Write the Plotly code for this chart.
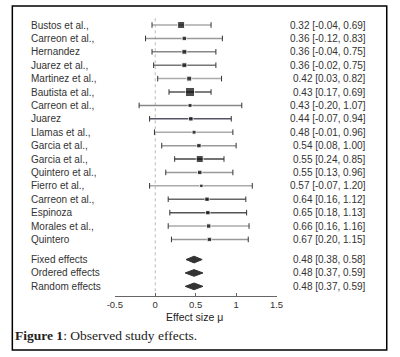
import plotly.graph_objects as go

studies = ["Bustos et al.,", "Carreon et al.,", "Hernandez", "Juarez et al.,", "Martinez et al.,",
           "Bautista et al.,", "Carreon et al.,", "Juarez", "Llamas et al.,", "Garcia et al.,",
           "Garcia et al.,", "Quintero et al.,", "Fierro et al.,", "Carreon et al.,", "Espinoza",
           "Morales et al.,", "Quintero"]
est = [0.32, 0.36, 0.36, 0.36, 0.42, 0.43, 0.43, 0.44, 0.48, 0.54, 0.55, 0.55, 0.57, 0.64, 0.65, 0.66, 0.67]
lo = [-0.04, -0.12, -0.04, -0.02, 0.03, 0.17, -0.20, -0.07, -0.01, 0.08, 0.24, 0.13, -0.07, 0.16, 0.18, 0.16, 0.20]
hi = [0.69, 0.83, 0.75, 0.75, 0.82, 0.69, 1.07, 0.94, 0.96, 1.00, 0.85, 0.96, 1.20, 1.12, 1.13, 1.16, 1.15]
weights = [7, 4.5, 5, 5, 5, 9, 4, 4.5, 4, 4.5, 7, 4.5, 3.5, 4.5, 4.5, 4.5, 4.5]

pooled = ["Fixed effects", "Ordered effects", "Random effects"]
pooled_est = [0.48, 0.48, 0.48]
pooled_lo = [0.38, 0.37, 0.37]
pooled_hi = [0.58, 0.59, 0.59]

tick_vals = [-0.5, 0, 0.5, 1, 1.5]
tick_text = ["-0.5", "0", "0.5", "1", "1.5"]

line_colors = ["#aaaaaa", "#999999", "#888888", "#777777", "#aaaaaa", "#555555", "#888888", "#555566",
               "#aaaaaa", "#999999", "#444444", "#999999", "#aaaaaa", "#666666", "#555555", "#aaaaaa", "#999999"]

W, H = 400, 357
fig = go.Figure()

study_y = list(range(len(studies)))
pooled_y = [len(studies) + 0.5 + k for k in range(len(pooled))]

# reference line at zero
fig.add_trace(go.Scatter(x=[0, 0], y=[-0.5, 20.0], mode="lines",
                         line=dict(color="#bbbbbb", width=1, dash="dot"),
                         hoverinfo="skip", showlegend=False))

# confidence intervals with end caps
for i in range(len(studies)):
    fig.add_trace(go.Scatter(x=[lo[i], hi[i]], y=[study_y[i], study_y[i]], mode="lines+markers",
                             line=dict(color=line_colors[i], width=1.5),
                             marker=dict(symbol="line-ns", size=4, line=dict(width=1, color="#333333")),
                             showlegend=False, hoverinfo="skip"))

# point estimates
fig.add_trace(go.Scatter(x=est, y=study_y, mode="markers",
                         marker=dict(symbol="square", size=weights, color="black"),
                         showlegend=False))

# pooled diamonds
for k in range(len(pooled)):
    y0 = pooled_y[k]
    h = 0.25
    fig.add_trace(go.Scatter(x=[pooled_lo[k], pooled_est[k], pooled_hi[k], pooled_est[k], pooled_lo[k]],
                             y=[y0, y0 - h, y0, y0 + h, y0], mode="lines", fill="toself",
                             fillcolor="#333333", line=dict(color="#333333", width=1),
                             showlegend=False, hoverinfo="skip"))

ann = []
lab_font = dict(family="Liberation Sans, Arial", size=10, color="#333333")
for i, s in enumerate(studies):
    ann.append(dict(x=23 / W, xref="paper", y=study_y[i], yref="y", text=s, showarrow=False,
                    xanchor="left", yanchor="middle", font=lab_font, borderpad=0))
    ann.append(dict(x=373 / W, xref="paper", y=study_y[i], yref="y",
                    text=f"{est[i]:.2f} [{lo[i]:.2f}, {hi[i]:.2f}]", showarrow=False,
                    xanchor="right", yanchor="middle", font=lab_font, borderpad=0))
for k, s in enumerate(pooled):
    ann.append(dict(x=23 / W, xref="paper", y=pooled_y[k], yref="y", text=s, showarrow=False,
                    xanchor="left", yanchor="middle", font=lab_font, borderpad=0))
    ann.append(dict(x=373 / W, xref="paper", y=pooled_y[k], yref="y",
                    text=f"{pooled_est[k]:.2f} [{pooled_lo[k]:.2f}, {pooled_hi[k]:.2f}]", showarrow=False,
                    xanchor="right", yanchor="middle", font=lab_font, borderpad=0))

PB = 296  # plot-area bottom in pixels
def py(pix):
    return (PB - pix) / PB

ann.append(dict(x=194 / W, xref="paper", y=py(316.5), yref="paper", text="Effect size μ", showarrow=False,
                xanchor="center", yanchor="middle", borderpad=0,
                font=dict(family="Liberation Sans, Arial", size=10.5, color="#222222")))
ann.append(dict(x=6 / W, xref="paper", y=py(335), yref="paper",
                text="<b>Figure 1</b>: Observed study effects.", showarrow=False,
                xanchor="left", yanchor="middle", borderpad=0,
                font=dict(family="Liberation Serif, Times New Roman", size=13.5, color="#222222")))

fig.update_layout(
    width=W, height=H,
    margin=dict(l=0, r=0, t=0, b=H - PB),
    paper_bgcolor="white", plot_bgcolor="white",
    annotations=ann,
    shapes=[dict(type="rect", xref="paper", yref="paper", x0=4.5 / W, x1=393.5 / W,
                 y0=py(350), y1=py(6), line=dict(color="black", width=1.5))],
    xaxis=dict(domain=[111 / W, 279 / W], range=[-0.5, 1.5], tickvals=tick_vals, ticktext=tick_text,
               showline=True, linecolor="#666666", linewidth=1, ticks="inside", ticklen=3,
               tickcolor="#666666", showgrid=False, zeroline=False,
               tickfont=dict(family="Liberation Sans, Arial", size=9.5, color="#333333")),
    yaxis=dict(range=[20.22, -1.866], visible=False, showgrid=False, zeroline=False),
)

fig.write_html("out.html", config={"displayModeBar": False},
               post_script="document.body.style.margin='0';document.body.style.overflow='hidden';")
